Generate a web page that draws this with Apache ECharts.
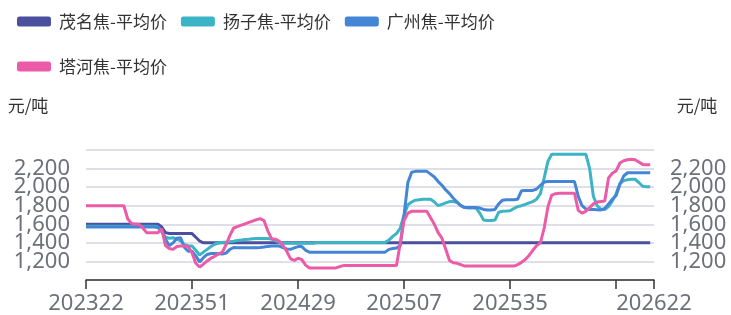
<!DOCTYPE html>
<html>
<head>
<meta charset="utf-8">
<title>焦炭平均价</title>
<script src="https://cdn.jsdelivr.net/npm/echarts@6.0.0/dist/echarts.min.js"></script>
<style>
  html, body { margin: 0; padding: 0; background: #fff; }
  #chart { width: 731px; height: 315px; }
</style>
</head>
<body>
<div id="chart"></div>
<script>
// 周度类目（年份+周数）
var weeks = [
  '202322','202323','202324','202325','202326','202327','202328','202329','202330','202331',
  '202332','202333','202334','202335','202336','202337','202338','202339','202341','202342',
  '202343','202344','202345','202346','202347','202348','202349','202350','202351','202352',
  '202401','202402','202403','202404','202405','202408','202409','202410','202411','202412',
  '202413','202414','202415','202416','202417','202418','202419','202420','202421','202422',
  '202423','202424','202425','202426','202427','202428','202429','202430','202431','202432',
  '202433','202434','202435','202436','202437','202438','202439','202440','202441','202442',
  '202443','202444','202445','202446','202447','202448','202449','202450','202451','202452',
  '202501','202502','202503','202504','202507','202508','202509','202510','202511','202512',
  '202513','202514','202515','202516','202517','202518','202519','202520','202521','202522',
  '202523','202524','202525','202526','202527','202528','202529','202530','202531','202532',
  '202533','202534','202535','202536','202537','202538','202539','202540','202541','202542',
  '202543','202544','202545','202546','202547','202548','202549','202550','202551','202552',
  '202601','202602','202603','202604','202605','202606','202607','202609','202610','202611',
  '202612','202613','202614','202615','202616','202617','202618','202619','202620','202621',
  '202622'
]

var seriesNames = ['茂名焦-平均价', '扬子焦-平均价', '广州焦-平均价', '塔河焦-平均价']
var colors = ['#4a4f9e', '#3bb4c6', '#4585d5', '#ec5ba7']

var maoming = [
  1600,1600,1600,1600,1600,1600,1600,1600,1600,1600,
  1600,1600,1600,1600,1600,1600,1600,1600,1600,1600,
  1570,1510,1500,1500,1500,1500,1500,1500,1500,1460,
  1420,1400,1400,1400,1400,1400,1400,1400,1400,1400,
  1400,1400,1400,1400,1400,1400,1400,1400,1400,1400,
  1400,1400,1400,1400,1400,1400,1400,1400,1400,1400,
  1400,1400,1400,1400,1400,1400,1400,1400,1400,1400,
  1400,1400,1400,1400,1400,1400,1400,1400,1400,1400,
  1400,1400,1400,1400,1400,1400,1400,1400,1400,1400,
  1400,1400,1400,1400,1400,1400,1400,1400,1400,1400,
  1400,1400,1400,1400,1400,1400,1400,1400,1400,1400,
  1400,1400,1400,1400,1400,1400,1400,1400,1400,1400,
  1400,1400,1400,1400,1400,1400,1400,1400,1400,1400,
  1400,1400,1400,1400,1400,1400,1400,1400,1400,1400,
  1400,1400,1400,1400,1400,1400,1400,1400,1400,1400,
  null
]

var yangzi = [
  1580,1580,1580,1580,1580,1580,1580,1580,1580,1580,
  1580,1580,1580,1580,1580,1580,1580,1580,1580,1570,
  1520,1460,1450,1455,1440,1420,1380,1370,1365,1320,
  1270,1300,1330,1360,1385,1400,1405,1408,1412,1418,
  1425,1430,1436,1440,1445,1447,1447,1447,1447,1440,
  1425,1405,1395,1395,1395,1395,1395,1395,1395,1395,
  1395,1405,1405,1405,1405,1405,1405,1405,1405,1405,
  1405,1405,1405,1405,1405,1405,1405,1405,1405,1405,
  1430,1470,1500,1560,1700,1810,1840,1860,1865,1870,
  1870,1870,1840,1800,1815,1830,1845,1845,1835,1800,
  1780,1775,1775,1775,1720,1645,1640,1640,1645,1730,
  1740,1742,1745,1770,1790,1800,1815,1830,1845,1870,
  1930,2100,2280,2355,2355,2355,2355,2355,2355,2355,
  2355,2355,2355,2200,1900,1800,1760,1760,1790,1850,
  1930,2040,2070,2080,2085,2085,2050,2010,2005,2005,
  null
]

var guangzhou = [
  1570,1570,1570,1570,1570,1570,1570,1570,1570,1570,
  1570,1570,1570,1570,1570,1570,1570,1570,1570,1565,
  1530,1440,1370,1400,1450,1455,1350,1310,1310,1260,
  1195,1240,1275,1285,1285,1283,1280,1290,1330,1350,
  1348,1347,1347,1347,1347,1347,1350,1355,1362,1365,
  1365,1365,1350,1335,1330,1345,1360,1360,1320,1300,
  1300,1300,1300,1300,1300,1300,1300,1300,1300,1300,
  1300,1300,1300,1300,1300,1300,1300,1300,1300,1300,
  1330,1340,1345,1370,1700,2050,2160,2170,2170,2170,
  2170,2140,2110,2060,2020,1970,1930,1880,1840,1800,
  1780,1780,1780,1780,1775,1760,1755,1755,1760,1820,
  1860,1865,1865,1865,1870,1960,1965,1965,1965,1980,
  2020,2055,2060,2060,2060,2060,2060,2060,2060,2060,
  1900,1800,1765,1760,1758,1756,1755,1770,1820,1870,
  1910,2030,2120,2155,2155,2155,2155,2155,2155,2155,
  null
]

var tahe = [
  1800,1800,1800,1800,1800,1800,1800,1800,1800,1800,
  1800,1660,1610,1600,1600,1560,1510,1510,1510,1510,
  1550,1370,1340,1330,1360,1365,1365,1360,1290,1180,
  1140,1170,1205,1235,1255,1280,1300,1380,1480,1560,
  1575,1590,1605,1620,1635,1650,1660,1640,1530,1445,
  1440,1420,1370,1310,1230,1210,1235,1220,1160,1130,
  1130,1130,1130,1130,1130,1130,1130,1145,1155,1155,
  1155,1155,1155,1155,1155,1155,1155,1155,1155,1155,
  1155,1155,1155,1400,1640,1720,1740,1740,1740,1740,
  1740,1670,1600,1510,1450,1330,1210,1185,1180,1165,
  1150,1150,1150,1150,1150,1150,1150,1150,1150,1150,
  1150,1150,1150,1150,1165,1190,1220,1265,1320,1370,
  1400,1560,1790,1915,1930,1935,1935,1935,1935,1935,
  1750,1720,1740,1780,1820,1840,1845,1850,2100,2150,
  2175,2260,2285,2295,2300,2295,2270,2245,2240,2240,
  null
]

var yTicks = { min: 1000, max: 2400, step: 200 }
var labelStep = 28

var chart = echarts.init(document.getElementById('chart'))

var lastIdx = weeks.length - 1
var fmt = function (v) {
  return v.toLocaleString('en-US')
}

var series = [maoming, yangzi, guangzhou, tahe].map(function (d, i) {
  return {
    name: seriesNames[i],
    type: 'line',
    data: d,
    showSymbol: false,
    symbol: 'none',
    lineStyle: { width: 3, color: colors[i] },
    itemStyle: { color: colors[i] }
  }
})

var yLabel = {
  fontSize: 22,
  color: '#6e7079',
  margin: 16,
  padding: [0, 0, 7, 0],
  showMinLabel: false,
  showMaxLabel: false,
  formatter: fmt
}

chart.setOption({
  backgroundColor: '#fff',
  animation: false,
  color: colors,
  textStyle: { fontFamily: 'Noto Sans, Noto Sans CJK SC, sans-serif' },
  legend: {
    left: 17,
    top: 6,
    width: 520,
    padding: 0,
    itemWidth: 34,
    itemHeight: 10,
    itemGap: 14,
    icon: 'roundRect',
    textStyle: {
      fontSize: 17,
      color: '#333',
      lineHeight: 31,
      padding: [0, 0, 0, 3],
      fontFamily: 'Noto Sans CJK SC'
    },
    data: seriesNames
  },
  grid: {
    left: 86,
    right: 77,
    top: 150,
    bottom: 34
  },
  tooltip: { trigger: 'axis' },
  xAxis: {
    type: 'category',
    boundaryGap: false,
    data: weeks,
    axisLine: { lineStyle: { color: '#333', width: 1.5 } },
    axisTick: {
      length: 9,
      lineStyle: { color: '#333', width: 1.5 },
      interval: function (idx) {
        return idx % labelStep === 0 || idx === lastIdx
      }
    },
    axisLabel: {
      fontSize: 22,
      color: '#6e7079',
      margin: 13,
      interval: function (idx) {
        return (idx % labelStep === 0 && idx !== labelStep * 5) || idx === lastIdx
      }
    }
  },
  yAxis: [
    {
      type: 'value',
      min: yTicks.min,
      max: yTicks.max,
      interval: yTicks.step,
      name: '元/吨',
      nameGap: 36,
      nameTextStyle: { fontSize: 17, color: '#333', padding: [0, 116, 0, 0], fontFamily: 'Noto Sans CJK SC' },
      axisLabel: yLabel,
      splitLine: { lineStyle: { color: '#dfdfe8', width: 2 } }
    },
    {
      type: 'value',
      min: yTicks.min,
      max: yTicks.max,
      interval: yTicks.step,
      position: 'right',
      name: '元/吨',
      nameGap: 36,
      nameTextStyle: { fontSize: 17, color: '#333', padding: [0, 0, 0, 86], fontFamily: 'Noto Sans CJK SC' },
      axisLabel: yLabel,
      splitLine: { show: false }
    }
  ],
  series: series
})
</script>
</body>
</html>
